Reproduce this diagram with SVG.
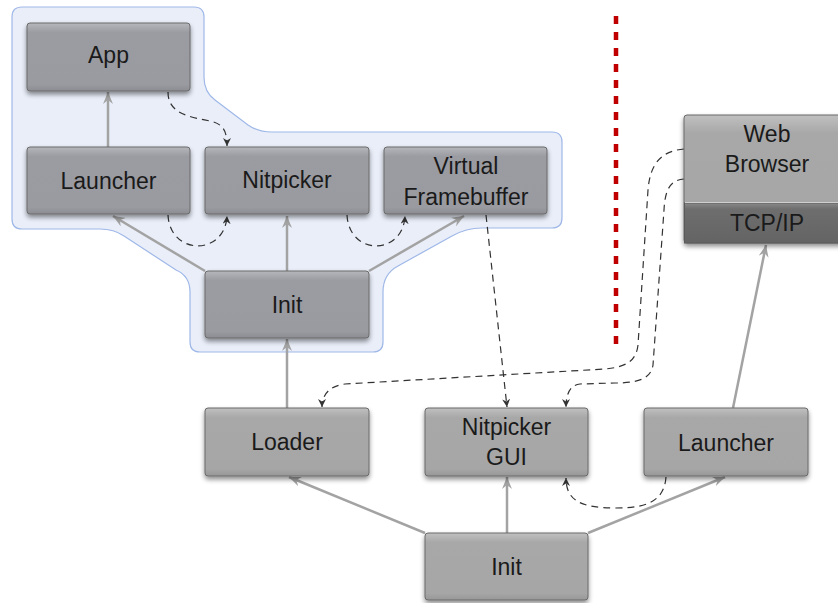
<svg xmlns="http://www.w3.org/2000/svg" width="838" height="603" viewBox="0 0 838 603">
<defs>
<style>
.lbl{font-family:"Liberation Sans",Arial,sans-serif;font-size:23px;fill:#1a1a1a;text-anchor:middle}
.bx{stroke:#6a6a6a;stroke-width:1;filter:url(#sh)}
.blue{fill:url(#gb)}
.gray{fill:url(#gg)}
.solid{fill:none;stroke:#a3a3a3;stroke-width:2.5;marker-end:url(#ag)}
.dash{fill:none;stroke:#333;stroke-width:1.2;stroke-dasharray:7 5;marker-end:url(#ad)}
</style>
<linearGradient id="gb" x1="0" y1="0" x2="0" y2="1">
<stop offset="0" stop-color="#b6b7bc"/>
<stop offset="0.14" stop-color="#9b9ca2"/>
<stop offset="0.9" stop-color="#9a9ba1"/>
<stop offset="1" stop-color="#8c8d93"/>
</linearGradient>
<linearGradient id="gg" x1="0" y1="0" x2="0" y2="1">
<stop offset="0" stop-color="#c0c0c0"/>
<stop offset="0.14" stop-color="#a8a8a8"/>
<stop offset="0.9" stop-color="#a6a6a6"/>
<stop offset="1" stop-color="#979797"/>
</linearGradient>
<linearGradient id="gt" x1="0" y1="0" x2="0" y2="1">
<stop offset="0" stop-color="#8a8a8a"/>
<stop offset="0.15" stop-color="#6e6e6e"/>
<stop offset="1" stop-color="#646464"/>
</linearGradient>
<filter id="sh" x="-10%" y="-10%" width="120%" height="130%">
<feGaussianBlur in="SourceAlpha" stdDeviation="2.5"/>
<feOffset dy="3" result="b"/>
<feComponentTransfer><feFuncA type="linear" slope="0.45"/></feComponentTransfer>
<feMerge><feMergeNode/><feMergeNode in="SourceGraphic"/></feMerge>
</filter>
<marker id="ag" viewBox="0 0 12 10" markerWidth="12" markerHeight="10" refX="12" refY="5" orient="auto" markerUnits="userSpaceOnUse">
<path d="M0,0 L12,5 L0,10 L4,5 Z" fill="#a3a3a3"/>
</marker>
<marker id="ad" viewBox="0 0 8 8" markerWidth="8" markerHeight="8" refX="8" refY="4" orient="auto" markerUnits="userSpaceOnUse">
<path d="M0,0 L8,4 L0,8 L2.5,4 Z" fill="#333"/>
</marker>
</defs>
<rect width="838" height="603" fill="#fff"/>
<g id="cluster">
<path d="M22,7 H194 Q204,7 204,17 V77 Q204,92 215,100 L248,125 Q258,132 272,132 H552 Q562,132 562,142 V218 Q562,228 552,228 H482 Q466,228 452,236 L398,266 Q383,274 383,292 V342 Q383,352 373,352 H200 Q190,352 190,342 V292 Q190,276 176,270 L124,236 Q114,229 100,229 H22 Q12,229 12,219 V17 Q12,7 22,7 Z" fill="#e9eef9" stroke="#9fb8e8" stroke-width="1.2"/>
</g>
<g id="separator">
<line x1="616" y1="16" x2="616" y2="344" stroke="#c00000" stroke-width="4.5" stroke-dasharray="8 8"/>
</g>
<g id="connectors">
<line class="solid" x1="108" y1="147" x2="108" y2="92"/>
<line class="solid" x1="205" y1="271" x2="113" y2="216"/>
<line class="solid" x1="287" y1="271" x2="287" y2="216"/>
<line class="solid" x1="369" y1="271" x2="464" y2="216"/>
<line class="solid" x1="287" y1="408" x2="287" y2="339"/>
<line class="solid" x1="425" y1="533" x2="289" y2="477"/>
<line class="solid" x1="507" y1="533" x2="507" y2="477"/>
<line class="solid" x1="588" y1="533" x2="725" y2="477"/>
<line class="solid" x1="733" y1="408" x2="766" y2="245"/>
<path class="dash" d="M168,92 C168,114 190,117 210,121 C224,124 227,132 227,146"/>
<path class="dash" d="M168,215 C170,256 225,256 227,216"/>
<path class="dash" d="M347,215 C349,256 403,256 405,216"/>
<path class="dash" d="M486,215 L507,407"/>
<path class="dash" d="M684,149 C660,151 650,165 648,190 L638,345 C636,362 625,367 605,369 L345,384 C330,386 322,394 322,407"/>
<path class="dash" d="M684,179 C670,180 665,190 664,210 L653,365 C651,378 640,383 615,383 L580,384 C570,385 566,394 566,407"/>
<path class="dash" d="M666,477 C664,505 640,508 615,508 C580,508 566,500 566,478"/>
</g>
<g id="app">
<rect class="bx blue" x="27" y="23" width="163" height="68" rx="3"/>
<text class="lbl" x="108.5" y="63">App</text>
</g>
<g id="launcher1">
<rect class="bx blue" x="27" y="147" width="163" height="67" rx="3"/>
<text class="lbl" x="108.5" y="189">Launcher</text>
</g>
<g id="nitpicker1">
<rect class="bx blue" x="205" y="147" width="164" height="67" rx="3"/>
<text class="lbl" x="287" y="188">Nitpicker</text>
</g>
<g id="vfb">
<rect class="bx blue" x="384" y="147" width="163" height="67" rx="3"/>
<text class="lbl" x="466" y="174">Virtual</text>
<text class="lbl" x="466" y="205">Framebuffer</text>
</g>
<g id="init1">
<rect class="bx blue" x="205" y="271" width="164" height="67" rx="3"/>
<text class="lbl" x="287" y="313">Init</text>
</g>
<g id="webbrowser">
<rect class="bx gray" x="684" y="115" width="166" height="128" rx="3"/>
<rect x="684.5" y="203" width="166" height="40" fill="url(#gt)" stroke="#5a5a5a" stroke-width="1"/>
<line x1="685" y1="202.5" x2="838" y2="202.5" stroke="#d0d0d0" stroke-width="1"/>
<text class="lbl" x="767" y="142">Web</text>
<text class="lbl" x="767" y="172">Browser</text>
<text class="lbl" x="767" y="231">TCP/IP</text>
</g>
<g id="loader">
<rect class="bx gray" x="205" y="408" width="164" height="68" rx="3"/>
<text class="lbl" x="287" y="450">Loader</text>
</g>
<g id="nitpickergui">
<rect class="bx gray" x="425" y="408" width="163" height="68" rx="3"/>
<text class="lbl" x="506.5" y="435">Nitpicker</text>
<text class="lbl" x="506.5" y="465">GUI</text>
</g>
<g id="launcher2">
<rect class="bx gray" x="644" y="408" width="164" height="68" rx="3"/>
<text class="lbl" x="726" y="451">Launcher</text>
</g>
<g id="init2">
<rect class="bx gray" x="425" y="533" width="163" height="67" rx="3"/>
<text class="lbl" x="506.5" y="575">Init</text>
</g>
</svg>
